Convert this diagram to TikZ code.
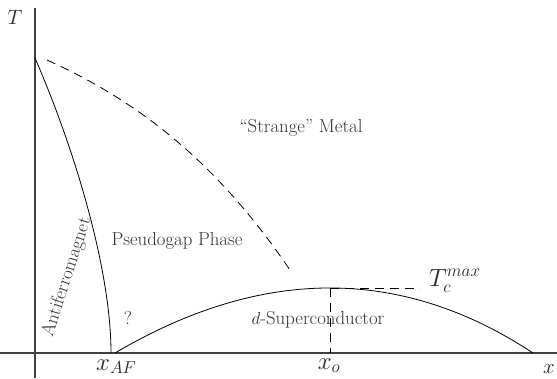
\documentclass[tikz,border=0pt]{standalone}
\begin{document}
\begin{tikzpicture}[x=1pt,y=-1pt,
  axis/.style={draw=black!75,line width=1.1pt},
  curve/.style={draw=black,line width=0.8pt},
  dashline/.style={draw=black,line width=0.8pt,dash pattern=on 9pt off 6pt},
  lbl/.style={text=black!80,font=\fontsize{18.8}{22}\selectfont,inner sep=0pt},
  albl/.style={text=black!85,font=\fontsize{21}{24}\selectfont,inner sep=0pt},
  mlbl/.style={text=black!85,font=\fontsize{24}{28}\selectfont,inner sep=0pt}]
\useasboundingbox (0,0) rectangle (557,378);
% axes
\coordinate (yb) at (35,378);
\coordinate (yt) at (35,8);
\coordinate (xl) at (0,353);
\coordinate (xr) at (557,353);
\draw[axis] (yb) -- (yt);
\draw[axis] (xl) -- (xr);
% key points
\coordinate (neel0) at (35,58);
\coordinate (xaf) at (111,353);
\coordinate (pg0) at (47,60);
\coordinate (pg1) at (290,270);
\coordinate (sc0) at (115,353);
\coordinate (sc1) at (533,353);
\coordinate (peak) at (330,288);
\coordinate (xo) at (330,353);
\coordinate (tcend) at (420,288);
% curves
\draw[curve] (neel0) .. controls (75,150) and (111,270) .. (xaf);
\draw[dashline] (pg0) .. controls (147,105) and (222,170) .. (pg1);
\draw[curve] (sc0) .. controls (262,266.3) and (401.7,266.3) .. (sc1);
\draw[dashline] (peak) -- (xo);
\draw[dashline] (peak) -- (tcend);
% labels
\node[albl] (T) at (15,17) {$T$};
\node[albl,anchor=base] (xlab) at (549,373) {$x$};
\node[mlbl,anchor=base west] (xaflab) at (96,370) {$x_{AF}$};
\node[mlbl,anchor=base] (xolab) at (329,369) {$x_o$};
\node[mlbl,anchor=base west] (tcmax) at (429,286) {$T_c^{max}$};
\node[lbl] (sm) at (301,128) {``Strange'' Metal};
\node[lbl] (pg) at (177,241) {Pseudogap Phase};
\node[lbl] (q) at (128,318) {?};
\node[lbl] (sc) at (318,320) {$d$-Superconductor};
\node[lbl,rotate=72] (af) at (67,277) {Antiferromagnet};
\end{tikzpicture}
\end{document}
